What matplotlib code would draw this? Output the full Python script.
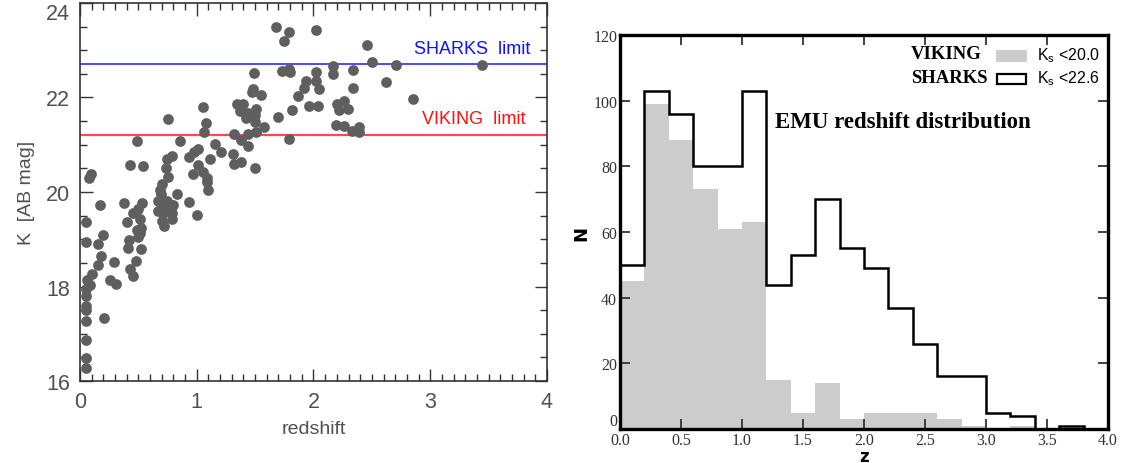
import numpy as np
import matplotlib.pyplot as plt
from matplotlib.patches import Rectangle
from matplotlib.ticker import MultipleLocator

# left panel: K magnitude vs redshift
redshift = [1.676, 1.744, 1.793, 2.02, 2.456, 2.50, 2.71, 3.44, 2.62, 2.855,
            2.17, 2.17, 2.34, 2.34, 2.02, 2.02, 2.05, 1.94, 1.92, 1.866,
            1.73, 1.80, 1.79, 1.82, 1.70, 1.96, 2.035, 2.20, 2.265, 2.22,
            2.296, 2.19, 2.265, 2.33, 2.39, 2.39, 1.79, 1.49, 1.48, 1.475,
            1.55, 1.345, 1.40, 1.37, 1.436, 1.51, 1.50, 1.42, 1.50, 1.575,
            1.51, 1.436, 1.32, 1.38, 1.436, 1.31, 1.32, 1.38, 1.50, 1.16,
            1.21, 1.117, 1.05, 1.077, 1.06, 1.007, 0.976, 0.936, 1.013, 0.967,
            1.05, 1.09, 1.09, 1.10, 0.933, 1.004, 0.752, 0.853, 0.79, 0.745,
            0.74, 0.75, 0.70, 0.685, 0.69, 0.67, 0.67, 0.715, 0.745, 0.73,
            0.80, 0.83, 0.79, 0.79, 0.70, 0.72, 0.537, 0.43, 0.49, 0.378,
            0.40, 0.455, 0.50, 0.53, 0.515, 0.485, 0.515, 0.494, 0.525, 0.424,
            0.41, 0.525, 0.476, 0.43, 0.455, 0.17, 0.194, 0.157, 0.18, 0.153,
            0.295, 0.255, 0.307, 0.209, 0.095, 0.077, 0.055, 0.055, 0.10, 0.064,
            0.086, 0.055, 0.055, 0.055, 0.055, 0.055, 0.055, 0.055, 0.055]
kmag = [23.50, 23.20, 23.38, 23.43, 23.11, 22.75, 22.68, 22.68, 22.32, 21.96,
        22.67, 22.49, 22.58, 22.20, 22.55, 22.35, 22.17, 22.35, 22.20, 22.03,
        22.56, 22.55, 22.60, 21.73, 21.59, 21.82, 21.83, 21.86, 21.92, 21.73,
        21.75, 21.41, 21.40, 21.30, 21.37, 21.27, 21.13, 22.51, 22.17, 22.12,
        22.05, 21.86, 21.86, 21.71, 21.68, 21.75, 21.64, 21.57, 21.48, 21.37,
        21.27, 21.23, 21.23, 21.09, 20.97, 20.81, 20.59, 20.63, 20.50, 21.02,
        20.85, 20.69, 21.80, 21.47, 21.28, 20.92, 20.84, 20.75, 20.58, 20.39,
        20.43, 20.30, 20.21, 20.05, 19.79, 19.51, 21.55, 21.08, 20.77, 20.69,
        20.51, 20.31, 20.16, 20.05, 19.95, 19.80, 19.59, 19.56, 19.80, 19.70,
        19.72, 19.96, 19.56, 19.42, 19.38, 19.27, 20.55, 20.58, 21.08, 19.77,
        19.37, 19.56, 19.64, 19.76, 19.42, 19.20, 19.13, 19.04, 19.24, 18.99,
        18.81, 18.79, 18.53, 18.38, 18.23, 19.73, 19.10, 18.89, 18.65, 18.46,
        18.51, 18.13, 18.05, 17.33, 20.39, 20.29, 19.36, 18.94, 18.27, 18.14,
        18.04, 17.95, 17.80, 17.59, 17.51, 17.26, 16.87, 16.48, 16.28]
sharks_limit = 22.7
viking_limit = 21.2

# right panel: histogram counts per 0.2 bin
bin_edges = np.round(np.arange(0, 4.01, 0.2), 2)
viking_counts = [45, 99, 88, 73, 61, 63, 15, 5, 14, 3,
                 5, 5, 5, 3, 1, 0, 1, 0, 0, 0]
sharks_counts = [50, 103, 96, 80, 80, 103, 44, 53, 70, 55,
                 49, 37, 26, 16, 16, 5, 4, 0, 1, 0]

fig = plt.figure(figsize=(11.22, 4.64), dpi=100)

# ---- left panel ----
sans = 'Liberation Sans'
txt = '#505050'
ax1 = fig.add_axes([0.0713, 0.1767, 0.4162, 0.8147])
ax1.scatter(redshift, kmag, s=60, color='#5f5f5f', linewidths=0, zorder=3)
ax1.axhline(sharks_limit, color='#4a4aff', lw=1.4)
ax1.axhline(viking_limit, color='#ff4a4a', lw=1.6)
ax1.text(3.86, 23.04, 'SHARKS  limit', color='#1010ff', fontsize=13,
         family=sans, ha='right', va='center')
ax1.text(3.82, 21.55, 'VIKING  limit', color='#ff1010', fontsize=13,
         family=sans, ha='right', va='center')
ax1.set_xlim(0, 4)
ax1.set_ylim(16, 24)
ax1.xaxis.set_major_locator(MultipleLocator(1))
ax1.xaxis.set_minor_locator(MultipleLocator(0.1))
ax1.set_yticks([16, 18, 20, 22, 24])
ax1.yaxis.set_minor_locator(MultipleLocator(0.5))
ax1.tick_params(which='both', direction='in', top=True, right=True,
                color='#333333', labelcolor=txt, labelsize=15.5, pad=7)
ax1.tick_params(which='major', length=9, width=1)
ax1.tick_params(which='minor', length=5, width=1)
for lab in ax1.get_xticklabels() + ax1.get_yticklabels():
    lab.set_family(sans)
ax1.get_yticklabels()[-1].set_va('top')
for sp in ax1.spines.values():
    sp.set_color('#333333')
    sp.set_linewidth(1.2)
ax1.set_xlabel('redshift', fontsize=14, family=sans, color=txt, labelpad=6)
ax1.set_ylabel('K  [AB mag]', fontsize=14, family=sans, color=txt, labelpad=8)

# ---- right panel ----
serif = 'Liberation Serif'
ax2 = fig.add_axes([0.5526, 0.0733, 0.4349, 0.849])
ax2.hist(bin_edges[:-1], bins=bin_edges, weights=viking_counts,
         color='#cccccc', histtype='stepfilled', lw=0)
ax2.hist(bin_edges[:-1], bins=bin_edges, weights=sharks_counts,
         histtype='step', color='black', lw=1.8)
ax2.set_xlim(0, 4)
ax2.set_ylim(0, 120)
ax2.set_xticks(np.arange(0, 4.01, 0.5))
ax2.set_yticks(range(0, 121, 20))
ax2.xaxis.set_major_formatter(lambda v, p: f'{v:.1f}')
ax2.tick_params(direction='in', top=True, right=True, length=7, width=1.3,
                labelsize=11.5, pad=2, colors='#333333')
for lab in ax2.get_xticklabels() + ax2.get_yticklabels():
    lab.set_family(serif)
ax2.get_yticklabels()[0].set_va('bottom')
for sp in ax2.spines.values():
    sp.set_linewidth(2.4)
ax2.set_xlabel('z', fontsize=12, fontweight='bold')
ax2.xaxis.set_label_coords(0.5, -0.045)
ax2.set_ylabel('N', fontsize=13, fontweight='bold', labelpad=2)

ax2.text(0.58, 0.78, 'EMU redshift distribution', transform=ax2.transAxes,
         family=serif, fontweight='bold', fontsize=16.5, ha='center',
         va='center')

# hand-built legend
ax2.text(0.742, 0.952, 'VIKING', transform=ax2.transAxes, family=serif,
         fontweight='bold', fontsize=13.5, ha='right', va='center')
ax2.text(0.754, 0.891, 'SHARKS', transform=ax2.transAxes, family=serif,
         fontweight='bold', fontsize=13.5, ha='right', va='center')
ax2.add_patch(Rectangle((0.770, 0.932), 0.064, 0.031, transform=ax2.transAxes,
                        facecolor='#cccccc', edgecolor='none'))
ax2.add_patch(Rectangle((0.772, 0.876), 0.060, 0.025, transform=ax2.transAxes,
                        facecolor='white', edgecolor='black', lw=1.6))
ax2.text(0.855, 0.949, r'K$_\mathregular{s}$ <20.0', transform=ax2.transAxes,
         family=sans, fontsize=11.5, ha='left', va='center')
ax2.text(0.855, 0.892, r'K$_\mathregular{s}$ <22.6', transform=ax2.transAxes,
         family=sans, fontsize=11.5, ha='left', va='center')

fig.savefig('out.png', dpi=100)
